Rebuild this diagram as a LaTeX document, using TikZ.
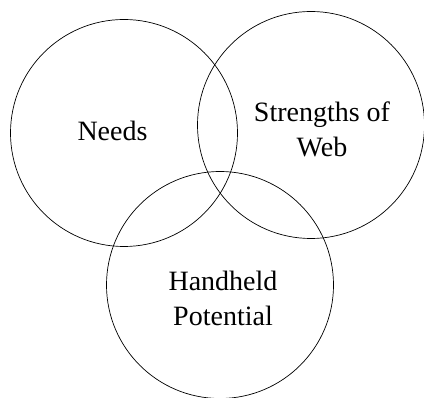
\documentclass[tikz,border=0pt]{standalone}
\usepackage{fontspec}
\setmainfont{Liberation Serif}
\usepackage{tikz}
\usetikzlibrary{positioning}

\begin{document}
\begin{tikzpicture}[y=-1pt,x=1pt]
	\tikzset{
		ring/.style={draw, circle, line width=0.7pt, minimum size=227pt, inner sep=0pt},
		tag/.style={align=center, inner sep=0pt, font=\fontsize{28}{35}\selectfont}
	}
	\useasboundingbox (0,0) rectangle (424,398);

	\node[ring] (needs) at (124,133) {};
	\node[ring] (web) at (311,125) {};
	\node[ring] (hand) at (220,285) {};

	\node[tag] (needstext) at (112.5,131) {Needs};
	\node[tag] (webtext) at (322,129) {Strengths of\\Web};
	\node[tag] (handtext) at (223,298) {Handheld\\Potential};
\end{tikzpicture}
\end{document}
